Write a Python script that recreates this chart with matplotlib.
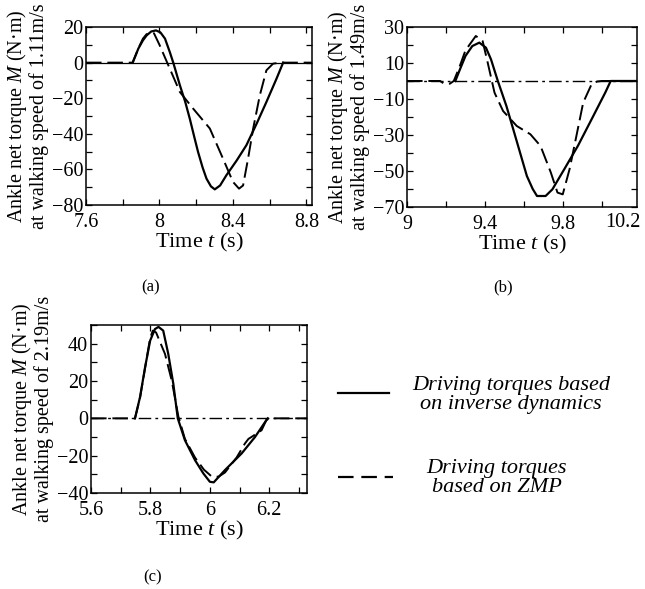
import numpy as np
import matplotlib
matplotlib.use("Agg")
import matplotlib.pyplot as plt
from matplotlib.lines import Line2D
from matplotlib.ticker import MultipleLocator

plt.rcParams['font.family'] = ['Liberation Serif', 'DejaVu Serif']
plt.rcParams['mathtext.fontset'] = 'custom'
plt.rcParams['mathtext.rm'] = 'Liberation Serif'
plt.rcParams['mathtext.it'] = 'Liberation Serif:italic'

# (a) walking speed 1.11 m/s
t_a_id = [7.854, 7.87, 7.885, 7.91, 7.930, 7.955, 7.981, 8.005, 8.030, 8.056, 8.075,
          8.111, 8.14, 8.165, 8.19, 8.210, 8.235, 8.256, 8.28, 8.301, 8.33, 8.364,
          8.42, 8.473, 8.53, 8.582, 8.637, 8.673]
m_a_id = [0, 4, 7.9, 12.5, 15.3, 17.5, 18.1, 17, 13.5, 6, 0,
          -12.7, -22, -31.5, -42, -50.2, -59, -65.2, -69.5, -71.2, -69, -63.3,
          -55, -46.4, -34, -22.1, -9, 0]
t_a_zmp = [7.6, 7.854, 7.885, 7.91, 7.93, 7.957, 7.97, 8.0, 8.042, 8.111, 8.183, 8.274,
           8.346, 8.400, 8.433, 8.455, 8.482, 8.510, 8.546, 8.582, 8.618, 8.654, 8.83]
m_a_zmp = [0, 0, 8, 13.5, 16, 16.9, 16.5, 10, 0, -16.5, -25.8, -37,
           -54, -67, -70.8, -69, -54, -37, -18.4, -4.3, -0.6, 0, 0]

# (b) walking speed 1.49 m/s
t_b_id = [9.248, 9.27, 9.30, 9.335, 9.371, 9.405, 9.431, 9.466, 9.51, 9.545, 9.58,
          9.615, 9.645, 9.667, 9.711, 9.746, 9.807, 9.877, 9.947, 10.017, 10.045, 10.2]
m_b_id = [0, 6, 13.9, 19.4, 21.3, 18.5, 12, 0, -13.9, -26.8, -39.8,
          -52.8, -60, -63.9, -63.9, -60.2, -49, -36, -21.3, -6.5, 0, 0]
t_b_zmp = [9.0, 9.17, 9.19, 9.22, 9.24, 9.27, 9.30, 9.353, 9.388, 9.414, 9.449, 9.493,
           9.563, 9.633, 9.685, 9.738, 9.772, 9.799, 9.834, 9.869, 9.904, 9.947, 9.975,
           10.0, 10.2]
m_b_zmp = [0, 0, -1.5, -1.5, 0, 8, 17, 25, 22.2, 10.2, -6.5, -16.7,
           -25, -29.6, -36.1, -50.9, -62, -63, -49, -30.6, -12, -1.8, -0.3,
           0, 0]

# (c) walking speed 2.19 m/s
t_c_id = [5.748, 5.765, 5.782, 5.799, 5.815, 5.827, 5.843, 5.86, 5.877, 5.892, 5.916,
          5.95, 5.978, 6.0, 6.013, 6.051, 6.107, 6.152, 6.19, 6.195]
m_c_id = [0, 11.4, 27.4, 41.6, 47.8, 49, 47, 34.5, 18.5, 0, -11.7,
          -22.4, -29.5, -34, -34.3, -27.7, -18.8, -10, -1, 0]
t_c_zmp = [5.6, 5.748, 5.765, 5.782, 5.799, 5.808, 5.819, 5.849, 5.872, 5.894, 5.916,
           5.95, 5.98, 6.005, 6.029, 6.051, 6.09, 6.118, 6.13, 6.14, 6.174, 6.19,
           6.2, 6.33]
m_c_zmp = [0, 0, 11, 27, 43, 47, 46, 34.5, 20, 1, -11,
           -21, -27.5, -31, -31.3, -29, -21, -13.5, -11, -10, -6.4, -1,
           0, 0]

speeds = ['1.11', '1.49', '2.19']
panel_tags = ['(a)', '(b)', '(c)']
xticks_a = [7.6, 8.0, 8.4, 8.8]
xticks_b = [9.0, 9.4, 9.8]
xticks_c = [5.6, 5.8, 6.0, 6.2]

dash = (0, (8, 3))
dashdot = (0, (9, 3, 2, 3))

fig = plt.figure(figsize=(6.45, 5.89), dpi=100)
ax_a = fig.add_axes([0.1333, 0.6519, 0.3504, 0.3022])
ax_b = fig.add_axes([0.6310, 0.6486, 0.3566, 0.3056])
ax_c = fig.add_axes([0.1411, 0.1630, 0.3349, 0.2852])


def style(ax, xlim, ylim, xticks, xmin, yticks, ymin, speed):
    ax.set_xlim(*xlim)
    ax.set_ylim(*ylim)
    ax.set_xticks(xticks)
    ax.set_xticklabels(['%g' % v for v in xticks])
    ax.xaxis.set_minor_locator(MultipleLocator(xmin))
    ax.set_yticks(yticks)
    ax.yaxis.set_minor_locator(MultipleLocator(ymin))
    ax.tick_params(which='both', direction='in', top=True, right=True,
                   labelsize=14.5, width=0.9, length=4)
    ax.tick_params(axis='x', pad=6)
    ax.tick_params(axis='y', pad=2)
    for s in ax.spines.values():
        s.set_linewidth(1.1)
    ax.set_xlabel(r'Time $t$ (s)', fontsize=16, labelpad=-1)
    ax.set_ylabel('Ankle net torque $M$ (N·m)\nat walking speed of %sm/s' % speed,
                  fontsize=14.5, linespacing=1.0, labelpad=2)


# (a)
ax_a.axhline(0, color='black', lw=0.9)
ax_a.plot(t_a_zmp, m_a_zmp, color='black', lw=1.4, ls=dash)
ax_a.plot(t_a_id, m_a_id, color='black', lw=1.6)
style(ax_a, (7.6, 8.83), (-80, 20), xticks_a, 0.2, np.arange(-80, 21, 20), 10, speeds[0])

# (b)  -- axis stops just short of 10.2, label squeezed in at the corner
ax_b.axhline(0, color='black', lw=1.0, ls=dashdot)
ax_b.plot(t_b_zmp, m_b_zmp, color='black', lw=1.4, ls=dash)
ax_b.plot(t_b_id, m_b_id, color='black', lw=1.6)
style(ax_b, (9.0, 10.18), (-70, 30), xticks_b, 0.2, np.arange(-70, 31, 20), 10, speeds[1])
ax_b.annotate('10.2', xy=(1, 0), xycoords='axes fraction', xytext=(-14, -6),
              textcoords='offset pixels', ha='center', va='top', fontsize=14.5)

# (c)
ax_c.axhline(0, color='black', lw=1.0, ls=dashdot)
ax_c.plot(t_c_zmp, m_c_zmp, color='black', lw=1.4, ls=dash)
ax_c.plot(t_c_id, m_c_id, color='black', lw=1.6)
style(ax_c, (5.6, 6.327), (-40, 50), xticks_c, 0.1, np.arange(-40, 41, 20), 10, speeds[2])

# panel tags
fig.text(0.233, 1 - 287 / 589, panel_tags[0], ha='center', va='center', fontsize=12)
fig.text(0.780, 1 - 287 / 589, panel_tags[1], ha='center', va='center', fontsize=12)
fig.text(0.236, 1 - 577 / 589, panel_tags[2], ha='center', va='center', fontsize=12)

# legend drawn by hand
fig.add_artist(Line2D([338 / 645, 389 / 645], [1 - 393 / 589] * 2, color='black', lw=1.6,
                      transform=fig.transFigure))
fig.add_artist(Line2D([338 / 645, 393 / 645], [1 - 477 / 589] * 2, color='black', lw=1.6,
                      ls=(0, (7, 3.5)), transform=fig.transFigure))
fig.text(511 / 645, 1 - 395 / 589, 'Driving torques based\non inverse dynamics',
         ha='center', va='center', fontsize=16, style='italic', linespacing=1.0)
fig.text(497 / 645, 1 - 478 / 589, 'Driving torques\nbased on ZMP',
         ha='center', va='center', fontsize=16, style='italic', linespacing=1.0)

fig.savefig('out.png', dpi=100)
